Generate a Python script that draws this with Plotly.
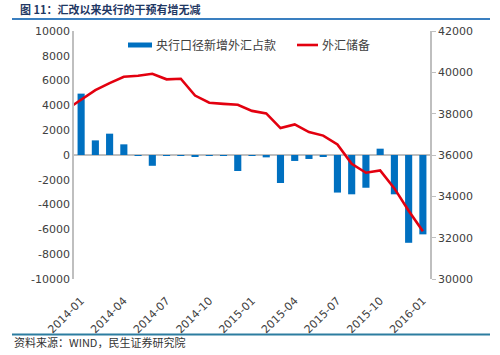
import plotly.graph_objects as go

# ---- data ----
months_all = ["2013-12",
              "2014-01", "2014-02", "2014-03", "2014-04", "2014-05", "2014-06",
              "2014-07", "2014-08", "2014-09", "2014-10", "2014-11", "2014-12",
              "2015-01", "2015-02", "2015-03", "2015-04", "2015-05", "2015-06",
              "2015-07", "2015-08", "2015-09", "2015-10", "2015-11", "2015-12",
              "2016-01"]
bar_months = months_all[1:]
fx_purchase = [4950, 1180, 1720, 860, -50, -870,
               -40, -30, -150, -30, -60, -1290,
               -40, -190, -2260, -480, -320, -140,
               -3030, -3170, -2640, 510, -3170, -7080,
               -6400]
fx_reserves = [38213,
               38666, 39137, 39481, 39787, 39838, 39932,
               39662, 39688, 38877, 38529, 38474, 38430,
               38134, 38015, 37300, 37481, 37111, 36938,
               36513, 35574, 35141, 35255, 34383, 33304,
               32309]
x_ticks = ["2014-01", "2014-04", "2014-07", "2014-10", "2015-01",
           "2015-04", "2015-07", "2015-10", "2016-01"]
left_ticks = [10000, 8000, 6000, 4000, 2000, 0, -2000, -4000, -6000, -8000, -10000]
left_text = ["10000", "8000", "6000", "4000", "2000", "0", "-2000", "-4000",
             "-6000", "-8000", "-10000"]
right_ticks = [30000, 32000, 34000, 36000, 38000, 40000, 42000]
right_text = ["30000", "32000", "34000", "36000", "38000", "40000", "42000"]

title_text = "图 11：汇改以来央行的干预有增无减"
source_text = "资料来源：WIND，民生证券研究院"
bar_name = "央行口径新增外汇占款"
line_name = "外汇储备"

BLUE = "#0070C0"
RED = "#E3000F"
GRAY = "#BFBFBF"
TXT = "#404040"
FONT = "DejaVu Sans, sans-serif"
CJK = "Noto Sans CJK SC, sans-serif"

W, H = 500, 355
L, R, T, B = 74, 430, 31, 279


def px(xp):
    return (xp - L) / (R - L)


def py(yp):
    return (B - yp) / (B - T)


fig = go.Figure()
fig.add_trace(go.Bar(x=bar_months, y=fx_purchase, marker_color=BLUE,
                     marker_line_width=0, width=0.5, name=bar_name,
                     showlegend=False))
fig.add_trace(go.Scatter(x=months_all, y=fx_reserves, mode="lines",
                         line=dict(color=RED, width=2.6), yaxis="y2",
                         name=line_name, showlegend=False))

fig.update_layout(
    width=W, height=H,
    margin=dict(l=L, r=W - R, t=T, b=H - B, autoexpand=False),
    paper_bgcolor="white", plot_bgcolor="white",
    font=dict(family=FONT, size=11, color=TXT),
    title=dict(text="<b>" + title_text + "</b>", xref="container", yref="container",
               x=20 / W, y=1 - 10 / H, xanchor="left", yanchor="middle",
               pad=dict(l=0, r=0, t=0, b=0),
               font=dict(family=CJK, size=11, color="#1F3864")),
    xaxis=dict(type="category", categoryorder="array", categoryarray=months_all,
               range=[0.5, 25.5], tickmode="array", tickvals=x_ticks,
               ticktext=x_ticks, tickangle=-45, showline=False, showgrid=False,
               ticks="outside", ticklen=10, tickcolor="rgba(0,0,0,0)",
               automargin=False,
               tickfont=dict(size=11, family=FONT, color=TXT)),
    yaxis=dict(range=[-10000, 10000], tickmode="array", tickvals=left_ticks,
               ticktext=left_text, showgrid=False, showline=True,
               linecolor=GRAY, linewidth=1.5, zeroline=True, zerolinecolor=GRAY,
               zerolinewidth=1.5, ticks="", ticklen=0, automargin=False,
               tickfont=dict(size=11, family=FONT, color=TXT)),
    yaxis2=dict(range=[30000, 42000], tickmode="array", tickvals=right_ticks,
                ticktext=right_text,
                overlaying="y", side="right", showgrid=False, showline=True,
                linecolor=GRAY, linewidth=1.5, ticks="outside", ticklen=4,
                tickcolor=GRAY, zeroline=False, automargin=False,
                tickfont=dict(size=11, family=FONT, color=TXT)),
    bargap=0.5,
)

# decorative rules and source
fig.add_shape(type="line", xref="paper", yref="paper", x0=px(12), x1=px(490),
              y0=py(19), y1=py(19), line=dict(color="#3A7FC0", width=2))
fig.add_shape(type="line", xref="paper", yref="paper", x0=px(12), x1=px(490),
              y0=py(334.5), y1=py(334.5), line=dict(color="#2C7DA0", width=2))
fig.add_annotation(text=source_text, xref="paper", yref="paper",
                   x=px(12), y=py(342), xanchor="left", yanchor="middle",
                   xshift=0, showarrow=False,
                   font=dict(family=CJK, size=11, color="#333333"))

# legend
fig.add_shape(type="rect", xref="paper", yref="paper", x0=px(128), x1=px(152),
              y0=py(47.5), y1=py(42.5), fillcolor=BLUE, line_width=0)
fig.add_annotation(text=bar_name, xref="paper", yref="paper",
                   x=px(154), y=py(45), xanchor="left", yanchor="middle",
                   showarrow=False, font=dict(family=CJK, size=12, color=TXT))
fig.add_shape(type="line", xref="paper", yref="paper", x0=px(297), x1=px(318),
              y0=py(45), y1=py(45), line=dict(color=RED, width=2.6))
fig.add_annotation(text=line_name, xref="paper", yref="paper",
                   x=px(320), y=py(45), xanchor="left", yanchor="middle",
                   showarrow=False, font=dict(family=CJK, size=12, color=TXT))

fig.write_html("out.html",
               config={"displayModeBar": False},
               post_script="document.body.style.margin='0';"
                           "document.body.style.overflow='hidden';")
